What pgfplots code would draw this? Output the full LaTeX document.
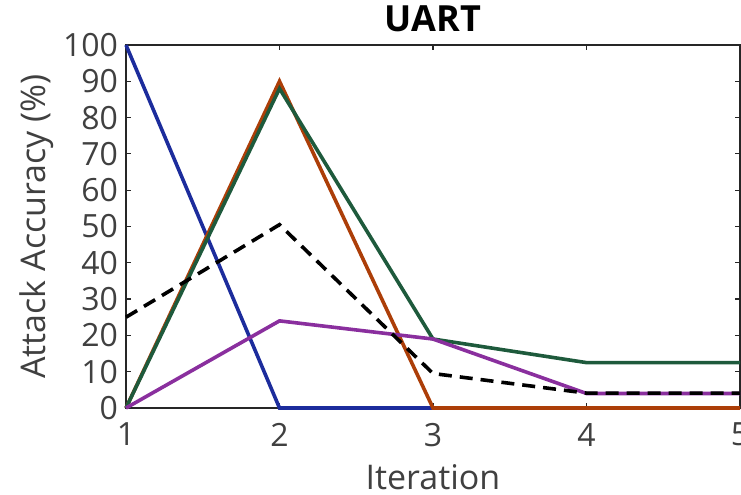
\documentclass[border=0pt]{standalone}
\usepackage{pgfplots}
\pgfplotsset{compat=1.18}
\usepackage{fontspec}
\setmainfont{Open Sans}
\usetikzlibrary{calc}
\definecolor{cblue}{HTML}{1C2C9C}
\definecolor{corange}{HTML}{AC3E08}
\definecolor{cgreen}{HTML}{1E5A3C}
\definecolor{cpurple}{HTML}{8A2F9E}
\definecolor{caxis}{HTML}{262626}
\definecolor{ctext}{HTML}{404040}
\begin{document}
\begin{tikzpicture}
\begin{axis}[
  name=ax,
  scale only axis,
  width=307pt, height=181.5pt,
  xmin=1, xmax=5, ymin=0, ymax=100,
  xtick={1,2,3,4,5},
  ytick={0,10,...,100},
  tick align=inside,
  major tick length=2.5pt,
  axis line style={caxis, line width=0.6pt},
  every tick/.style={caxis, line width=0.6pt},
  tick label style={font=\fontsize{16}{18}\selectfont, text=ctext},
  /pgf/number format/assume math mode=true,
  xticklabel style={yshift=-4pt},
  yticklabel style={xshift=-0.5pt},
  xlabel={Iteration},
  ylabel={Attack Accuracy (\%)},
  label style={font=\fontsize{17}{19}\selectfont, text=ctext},
  xlabel style={yshift=-2pt},
  ylabel style={yshift=-2pt},
  title={\textbf{UART}},
  title style={font=\fontsize{18}{20}\selectfont, text=black, yshift=-3pt},
  clip=false,
  every axis plot/.append style={line width=1.8pt},
]
\addplot[cblue] coordinates {(1,100) (2,0) (3,0)};
\addplot[corange] coordinates {(1,0) (2,90) (3,0) (4,0) (5,0)};
\addplot[cgreen] coordinates {(1,0) (2,88) (3,19) (4,12.5) (5,12.5)};
\addplot[cpurple] coordinates {(1,0) (2,24) (3,19) (4,4) (5,4)};
\addplot[black, dash pattern=on 6.5pt off 4pt] coordinates {(1,25) (2,50.5) (3,9.5) (4,4.1) (5,4.1)};
\end{axis}
\pgfresetboundingbox
\path[use as bounding box] ($(ax.south west)+(-63pt,-43.5pt)$) rectangle ($(ax.north east)+(0.5pt,22.5pt)$);
\end{tikzpicture}
\end{document}
